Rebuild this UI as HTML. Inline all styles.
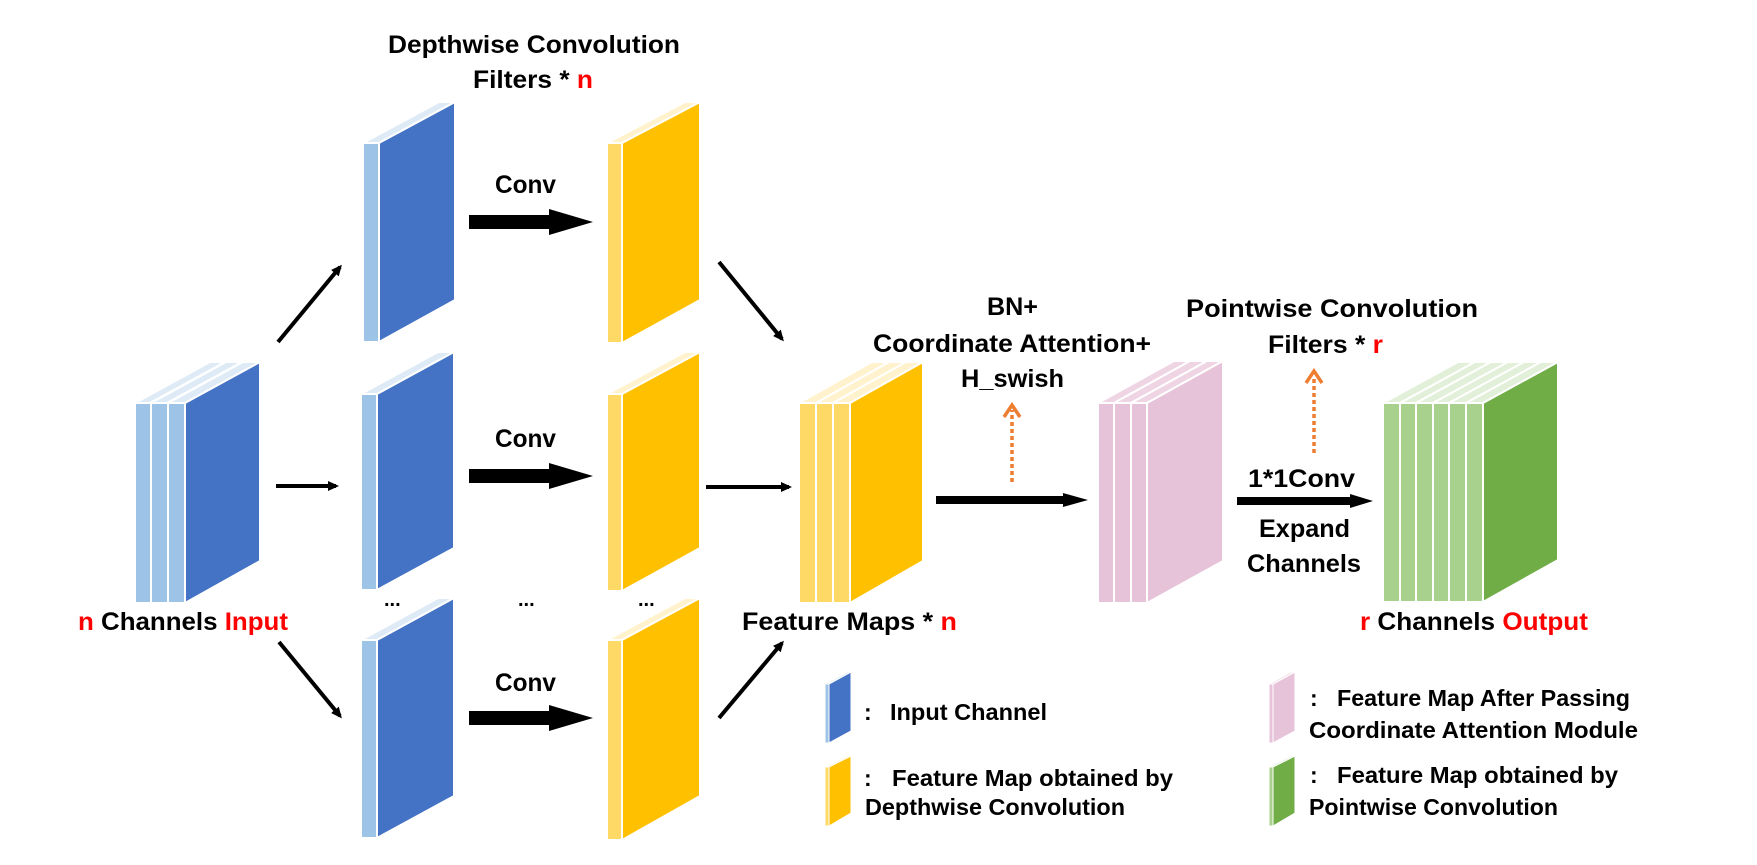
<!DOCTYPE html>
<html><head><meta charset="utf-8"><style>
html,body{margin:0;padding:0;background:#fff;}
svg{display:block;}
text{font-family:"Liberation Sans",sans-serif;font-weight:bold;fill:#000;}
.r{fill:#ff0000;}
</style></head><body>
<svg width="1757" height="865" viewBox="0 0 1757 865" xmlns="http://www.w3.org/2000/svg">
<defs>
<marker id="ah" markerWidth="11" markerHeight="10" refX="8" refY="5" orient="auto" markerUnits="userSpaceOnUse" viewBox="0 0 11 10">
<path d="M0,0 L11,5 L0,10 Z" fill="#000"/>
</marker>
</defs>

<!-- Input stack -->
<g stroke="#fff" stroke-width="2">
<polygon points="135,403 150,403 225,362 210,362" fill="#DEEBF7"/>
<rect x="135" y="403" width="16" height="200" fill="#9DC3E6"/>
<polygon points="151,403 167,403 242,362 226,362" fill="#DEEBF7"/>
<rect x="151" y="403" width="17" height="200" fill="#9DC3E6"/>
<polygon points="168,403 185,403 260,362 243,362" fill="#DEEBF7"/>
<rect x="168" y="403" width="17" height="200" fill="#9DC3E6"/>
<polygon points="185,403 260,362 260,561 185,603" fill="#4472C4"/>
</g>

<!-- Blue filters -->
<g stroke="#fff" stroke-width="2">
<polygon points="363,143 379,143 455,102 439,102" fill="#DEEBF7"/>
<rect x="363" y="143" width="16" height="199" fill="#9DC3E6"/>
<polygon points="379,143 455,102 455,300 379,342" fill="#4472C4"/>

<polygon points="361,394 377,394 454,352 438,352" fill="#DEEBF7"/>
<rect x="361" y="394" width="16" height="196" fill="#9DC3E6"/>
<polygon points="377,394 454,352 454,548 377,590" fill="#4472C4"/>

<polygon points="361,640 377,640 454,598 438,598" fill="#DEEBF7"/>
<rect x="361" y="640" width="16" height="198" fill="#9DC3E6"/>
<polygon points="377,640 454,598 454,796 377,838" fill="#4472C4"/>
</g>

<!-- Yellow filters -->
<g stroke="#fff" stroke-width="2">
<polygon points="607,143 622,143 700,102 685,102" fill="#FFF2CC"/>
<rect x="607" y="143" width="15" height="200" fill="#FFD966"/>
<polygon points="622,143 700,102 700,300 622,343" fill="#FFC000"/>

<polygon points="607,394 622,394 700,352 685,352" fill="#FFF2CC"/>
<rect x="607" y="394" width="15" height="197" fill="#FFD966"/>
<polygon points="622,394 700,352 700,548 622,591" fill="#FFC000"/>

<polygon points="607,640 622,640 700,598 685,598" fill="#FFF2CC"/>
<rect x="607" y="640" width="15" height="200" fill="#FFD966"/>
<polygon points="622,640 700,598 700,796 622,840" fill="#FFC000"/>
</g>

<!-- Feature map stack (yellow) -->
<g stroke="#fff" stroke-width="2">
<polygon points="799,403 816,403 889,362 872,362" fill="#FFF2CC"/>
<rect x="799" y="403" width="17" height="200" fill="#FFD966"/>
<polygon points="816,403 833,403 906,362 889,362" fill="#FFF2CC"/>
<rect x="816" y="403" width="17" height="200" fill="#FFD966"/>
<polygon points="833,403 850,403 923,362 906,362" fill="#FFF2CC"/>
<rect x="833" y="403" width="17" height="200" fill="#FFD966"/>
<polygon points="850,403 923,362 923,561 850,603" fill="#FFC000"/>
</g>

<!-- Pink stack -->
<g stroke="#fff" stroke-width="2">
<polygon points="1098,403 1114,403 1190,361 1174,361" fill="#EFD5E4"/>
<rect x="1098" y="403" width="16" height="200" fill="#E6C3D8"/>
<polygon points="1114,403 1131,403 1207,361 1190,361" fill="#EFD5E4"/>
<rect x="1114" y="403" width="17" height="200" fill="#E6C3D8"/>
<polygon points="1131,403 1147,403 1223,361 1207,361" fill="#EFD5E4"/>
<rect x="1131" y="403" width="16" height="200" fill="#E6C3D8"/>
<polygon points="1147,403 1223,361 1223,561 1147,603" fill="#E6C3D8"/>
</g>

<!-- Green stack -->
<g stroke="#fff" stroke-width="2">
<polygon points="1383,403 1400,403 1475,362 1458,362" fill="#E2F0D9"/>
<rect x="1383" y="403" width="17" height="199" fill="#A9D18E"/>
<polygon points="1400,403 1416,403 1491,362 1475,362" fill="#E2F0D9"/>
<rect x="1400" y="403" width="16" height="199" fill="#A9D18E"/>
<polygon points="1416,403 1433,403 1508,362 1491,362" fill="#E2F0D9"/>
<rect x="1416" y="403" width="17" height="199" fill="#A9D18E"/>
<polygon points="1433,403 1449,403 1524,362 1508,362" fill="#E2F0D9"/>
<rect x="1433" y="403" width="16" height="199" fill="#A9D18E"/>
<polygon points="1449,403 1466,403 1541,362 1524,362" fill="#E2F0D9"/>
<rect x="1449" y="403" width="17" height="199" fill="#A9D18E"/>
<polygon points="1466,403 1483,403 1558,362 1541,362" fill="#E2F0D9"/>
<rect x="1466" y="403" width="17" height="199" fill="#A9D18E"/>
<polygon points="1483,403 1558,362 1558,560 1483,602" fill="#70AD47"/>
</g>

<!-- Thin arrows -->
<g stroke="#000" stroke-width="4" marker-end="url(#ah)">
<line x1="278" y1="342" x2="340" y2="267"/>
<line x1="276" y1="486" x2="336" y2="486"/>
<line x1="279" y1="642" x2="340" y2="716"/>
<line x1="719" y1="262" x2="782" y2="339"/>
<line x1="706" y1="487" x2="789" y2="487"/>
<line x1="719" y1="718" x2="782" y2="643"/>
</g>

<!-- Thick conv arrows -->
<g fill="#000">
<polygon points="469,215 549,215 549,209 593,222 549,235 549,229 469,229"/>
<polygon points="469,469 549,469 549,463 593,476 549,489 549,483 469,483"/>
<polygon points="469,711 549,711 549,705 593,718 549,731 549,725 469,725"/>
<polygon points="936,496 1063,496 1063,493 1088,500 1063,507 1063,504 936,504"/>
<polygon points="1237,497 1350,497 1350,494 1373,501 1350,508 1350,505 1237,505"/>
</g>

<!-- Orange dotted arrows -->
<g stroke="#ED7D31" stroke-width="3.5" fill="none">
<line x1="1012" y1="482" x2="1012" y2="410" stroke-dasharray="4,3"/>
<polyline points="1004,417 1012,405 1020,417"/>
<line x1="1314" y1="453" x2="1314" y2="376" stroke-dasharray="4,3"/>
<polyline points="1306,383 1314,371 1322,383"/>
</g>

<!-- Texts -->
<text x="388" y="53" font-size="25" textLength="292" lengthAdjust="spacingAndGlyphs">Depthwise Convolution</text>
<text x="473" y="88" font-size="25" textLength="120" lengthAdjust="spacingAndGlyphs">Filters * <tspan class="r">n</tspan></text>
<text x="495" y="193" font-size="25" textLength="61" lengthAdjust="spacingAndGlyphs">Conv</text>
<text x="495" y="447" font-size="25" textLength="61" lengthAdjust="spacingAndGlyphs">Conv</text>
<text x="495" y="691" font-size="25" textLength="61" lengthAdjust="spacingAndGlyphs">Conv</text>
<text x="384" y="606" font-size="20">...</text>
<text x="518" y="606" font-size="20">...</text>
<text x="638" y="606" font-size="20">...</text>
<text x="78" y="630" font-size="25" textLength="210" lengthAdjust="spacingAndGlyphs"><tspan class="r">n</tspan> Channels <tspan class="r">Input</tspan></text>
<text x="742" y="630" font-size="25" textLength="215" lengthAdjust="spacingAndGlyphs">Feature Maps * <tspan class="r">n</tspan></text>
<text x="987" y="315" font-size="25" textLength="51" lengthAdjust="spacingAndGlyphs">BN+</text>
<text x="873" y="352" font-size="25" textLength="278" lengthAdjust="spacingAndGlyphs">Coordinate Attention+</text>
<text x="961" y="387" font-size="25" textLength="103" lengthAdjust="spacingAndGlyphs">H_swish</text>
<text x="1186" y="317" font-size="25" textLength="292" lengthAdjust="spacingAndGlyphs">Pointwise Convolution</text>
<text x="1268" y="353" font-size="25" textLength="115" lengthAdjust="spacingAndGlyphs">Filters * <tspan class="r">r</tspan></text>
<text x="1248" y="487" font-size="25" textLength="107" lengthAdjust="spacingAndGlyphs">1*1Conv</text>
<text x="1259" y="537" font-size="25" textLength="91" lengthAdjust="spacingAndGlyphs">Expand</text>
<text x="1247" y="572" font-size="25" textLength="114" lengthAdjust="spacingAndGlyphs">Channels</text>
<text x="1360" y="630" font-size="25" textLength="228" lengthAdjust="spacingAndGlyphs"><tspan class="r">r</tspan> Channels <tspan class="r">Output</tspan></text>

<!-- Legend icons -->
<g stroke="#fff" stroke-width="1">
<polygon points="825,684 829,684 851,672 847,672" fill="#DEEBF7"/>
<rect x="825" y="684" width="4" height="59" fill="#9DC3E6"/>
<polygon points="829,684 851,672 851,731 829,743" fill="#4472C4"/>

<polygon points="825,767 829,767 851,756 847,756" fill="#FFF2CC"/>
<rect x="825" y="767" width="4" height="59" fill="#FFD966"/>
<polygon points="829,767 851,756 851,813 829,826" fill="#FFC000"/>

<polygon points="1269,684 1273,684 1295,672 1291,672" fill="#F2DCE8"/>
<rect x="1269" y="684" width="4" height="59" fill="#E6C3D8"/>
<polygon points="1273,684 1295,672 1295,731 1273,743" fill="#E6C3D8"/>

<polygon points="1269,767 1273,767 1295,756 1291,756" fill="#E2F0D9"/>
<rect x="1269" y="767" width="4" height="59" fill="#A9D18E"/>
<polygon points="1273,767 1295,756 1295,813 1273,826" fill="#70AD47"/>
</g>

<!-- Legend texts -->
<g font-size="23">
<text x="864" y="720">:</text>
<text x="890" y="720" textLength="157" lengthAdjust="spacingAndGlyphs">Input Channel</text>
<text x="864" y="786">:</text>
<text x="892" y="786" textLength="281" lengthAdjust="spacingAndGlyphs">Feature Map obtained by</text>
<text x="865" y="815" textLength="260" lengthAdjust="spacingAndGlyphs">Depthwise Convolution</text>
<text x="1310" y="706">:</text>
<text x="1337" y="706" textLength="293" lengthAdjust="spacingAndGlyphs">Feature Map After Passing</text>
<text x="1309" y="738" textLength="329" lengthAdjust="spacingAndGlyphs">Coordinate Attention Module</text>
<text x="1310" y="783">:</text>
<text x="1337" y="783" textLength="281" lengthAdjust="spacingAndGlyphs">Feature Map obtained by</text>
<text x="1309" y="815" textLength="249" lengthAdjust="spacingAndGlyphs">Pointwise Convolution</text>
</g>
</svg>
</body></html>
